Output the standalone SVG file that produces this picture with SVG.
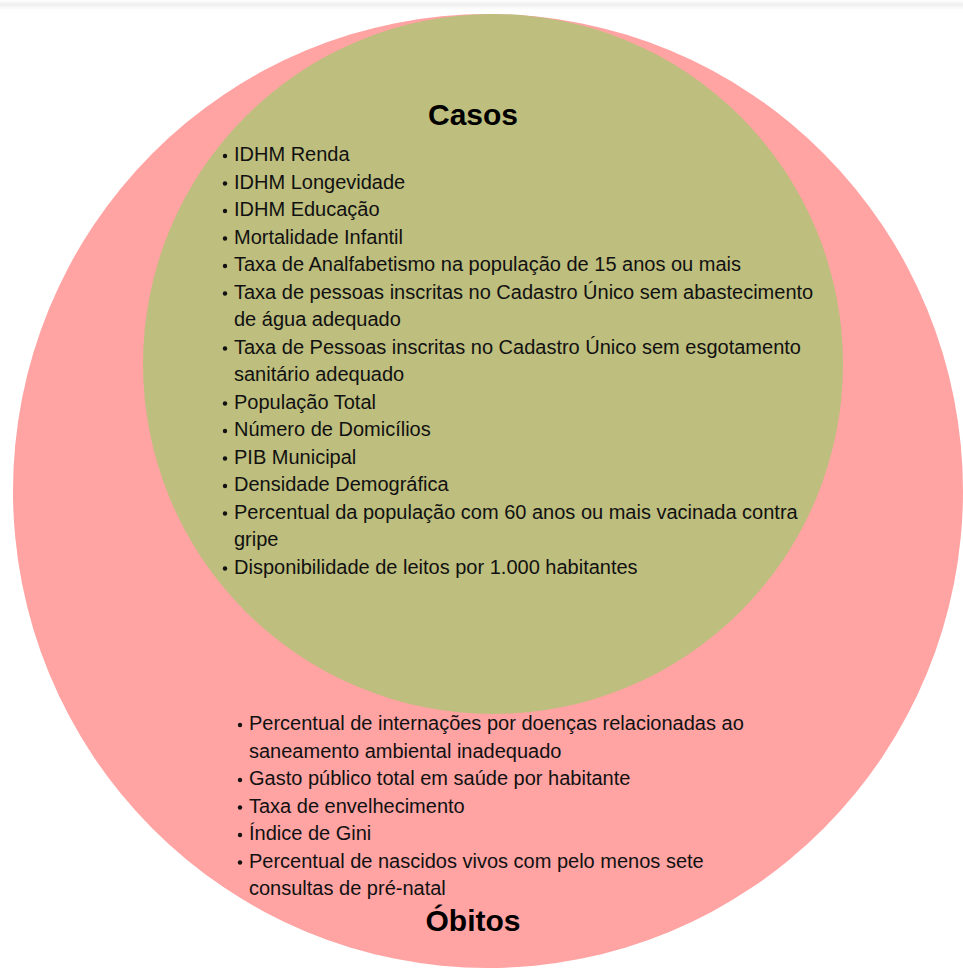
<svg xmlns="http://www.w3.org/2000/svg" width="963" height="968" viewBox="0 0 963 968">
<defs>
<linearGradient id="topshade" x1="0" y1="0" x2="0" y2="1">
<stop offset="0" stop-color="#ffffff"/>
<stop offset="0.45" stop-color="#efefef"/>
<stop offset="1" stop-color="#ffffff"/>
</linearGradient>
<style>
.item{font-family:"Liberation Sans",Arial,sans-serif;font-size:20px;fill:#111111}
.title{font-family:"Liberation Sans",Arial,sans-serif;font-size:30px;font-weight:bold;fill:#000;text-anchor:middle}
.dot{fill:#111111}
</style>
</defs>
<rect x="0" y="0" width="963" height="968" fill="#ffffff"/>
<rect x="0" y="0" width="963" height="10" fill="url(#topshade)"/>
<g id="obitos">
<ellipse cx="488" cy="491" rx="475" ry="477" fill="#ffa3a3"/>
</g>
<g id="casos">
<circle cx="493" cy="364" r="350" fill="#bebe7e"/>
<text class="title" x="473" y="125">Casos</text>
<g class="dot">
<circle cx="225" cy="156" r="2.2"/>
<circle cx="225" cy="183.5" r="2.2"/>
<circle cx="225" cy="211" r="2.2"/>
<circle cx="225" cy="238.5" r="2.2"/>
<circle cx="225" cy="266" r="2.2"/>
<circle cx="225" cy="293.5" r="2.2"/>
<circle cx="225" cy="348.5" r="2.2"/>
<circle cx="225" cy="403.5" r="2.2"/>
<circle cx="225" cy="431" r="2.2"/>
<circle cx="225" cy="458.5" r="2.2"/>
<circle cx="225" cy="486" r="2.2"/>
<circle cx="225" cy="513.5" r="2.2"/>
<circle cx="225" cy="568.5" r="2.2"/>
</g>
<text class="item" x="234" y="161">IDHM Renda</text>
<text class="item" x="234" y="188.5">IDHM Longevidade</text>
<text class="item" x="234" y="216">IDHM Educação</text>
<text class="item" x="234" y="243.5">Mortalidade Infantil</text>
<text class="item" x="234" y="271">Taxa de Analfabetismo na população de 15 anos ou mais</text>
<text class="item" x="234" y="298.5">Taxa de pessoas inscritas no Cadastro Único sem abastecimento</text>
<text class="item" x="234" y="326">de água adequado</text>
<text class="item" x="234" y="353.5">Taxa de Pessoas inscritas no Cadastro Único sem esgotamento</text>
<text class="item" x="234" y="381">sanitário adequado</text>
<text class="item" x="234" y="408.5">População Total</text>
<text class="item" x="234" y="436">Número de Domicílios</text>
<text class="item" x="234" y="463.5">PIB Municipal</text>
<text class="item" x="234" y="491">Densidade Demográfica</text>
<text class="item" x="234" y="518.5">Percentual da população com 60 anos ou mais vacinada contra</text>
<text class="item" x="234" y="546">gripe</text>
<text class="item" x="234" y="573.5">Disponibilidade de leitos por 1.000 habitantes</text>
</g>
<g id="obitos-labels">
<g class="dot">
<circle cx="240" cy="725" r="2.2"/>
<circle cx="240" cy="780" r="2.2"/>
<circle cx="240" cy="807.5" r="2.2"/>
<circle cx="240" cy="835" r="2.2"/>
<circle cx="240" cy="862.5" r="2.2"/>
</g>
<text class="item" x="249" y="730">Percentual de internações por doenças relacionadas ao</text>
<text class="item" x="249" y="757.5">saneamento ambiental inadequado</text>
<text class="item" x="249" y="785">Gasto público total em saúde por habitante</text>
<text class="item" x="249" y="812.5">Taxa de envelhecimento</text>
<text class="item" x="249" y="840">Índice de Gini</text>
<text class="item" x="249" y="867.5">Percentual de nascidos vivos com pelo menos sete</text>
<text class="item" x="249" y="895">consultas de pré-natal</text>
<text class="title" x="473" y="931">Óbitos</text>
</g>
<g id="connectors"/>
</svg>
